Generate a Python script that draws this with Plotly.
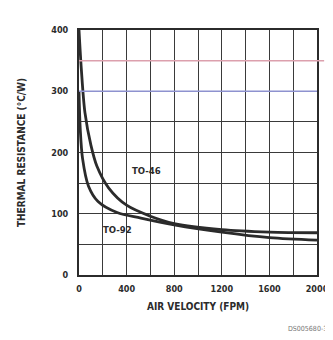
import plotly.graph_objects as go

# ── Data ─────────────────────────────────────────────────────────────────────
to46_fpm = [0, 20, 50, 100, 150, 250, 400, 600, 800, 1200, 1600, 2000]
to46_cw  = [400, 335, 265, 212, 178, 142, 114, 96, 84, 74, 70, 69]

to92_fpm = [0, 10, 30, 80, 160, 320, 520, 800, 1200, 1600, 2000]
to92_cw  = [300, 240, 190, 145, 120, 102, 93, 82, 70, 61, 57]

x_ticks = [0, 400, 800, 1200, 1600, 2000]
y_ticks = [0, 100, 200, 300, 400]

_INK  = "#2b2b2b"
_GRID = "#3a3a3a"
_FONT = "Liberation Sans Narrow, DejaVu Sans Condensed, Arial, sans-serif"

fig = go.Figure()
for xs, ys in [(to46_fpm, to46_cw), (to92_fpm, to92_cw)]:
    fig.add_trace(go.Scatter(
        x=xs, y=ys, mode="lines", line=dict(color=_INK, width=2.8, shape="spline",
                                            smoothing=0.9),
        showlegend=False, hoverinfo="skip",
    ))

# scan artefacts: tinted grid rows
fig.add_shape(type="line", xref="paper", x0=0, x1=1.03, y0=350, y1=350,
              line=dict(color="#dca0ad", width=1.5), layer="above")
fig.add_shape(type="line", xref="paper", x0=0, x1=1.0, y0=300, y1=300,
              line=dict(color="#8e92cf", width=1.5), layer="above")

fig.add_annotation(x=570, y=170, text="<b>TO-46</b>", showarrow=False,
                   font=dict(size=9.5, color=_INK, family=_FONT))
fig.add_annotation(x=320, y=75, text="<b>TO-92</b>", showarrow=False,
                   font=dict(size=9.5, color=_INK, family=_FONT))
fig.add_annotation(x=1.05, y=-0.245, xref="paper", yref="paper", xanchor="right",
                   text="DS005680-3", showarrow=False,
                   font=dict(size=7, color="#777777", family=_FONT))

axis_common = dict(
    showline=True, linecolor=_INK, linewidth=2, mirror=True,
    showgrid=True, gridcolor=_GRID, gridwidth=1.3,
    ticks="", zeroline=False,
    tickfont=dict(size=9, color=_INK, family=_FONT, weight="bold"),
    title_font=dict(size=10, color=_INK, family=_FONT, weight="bold"),
)

fig.update_layout(
    width=333, height=340,
    margin=dict(l=70, r=13, t=22, b=73),
    paper_bgcolor="white", plot_bgcolor="white",
    font=dict(family=_FONT),
    xaxis=dict(**axis_common, range=[0, 2000], tickvals=x_ticks,
               ticklabelstandoff=4,
               minor=dict(dtick=200, showgrid=True, gridcolor=_GRID, gridwidth=1.3),
               title=dict(text="AIR VELOCITY (FPM)", standoff=10)),
    yaxis=dict(**axis_common, range=[0, 400], tickvals=y_ticks,
               ticklabelstandoff=7,
               minor=dict(dtick=50, showgrid=True, gridcolor=_GRID, gridwidth=1.3),
               title=dict(text="THERMAL RESISTANCE (°C/W)", standoff=24)),
)

fig.write_html("out.html")
